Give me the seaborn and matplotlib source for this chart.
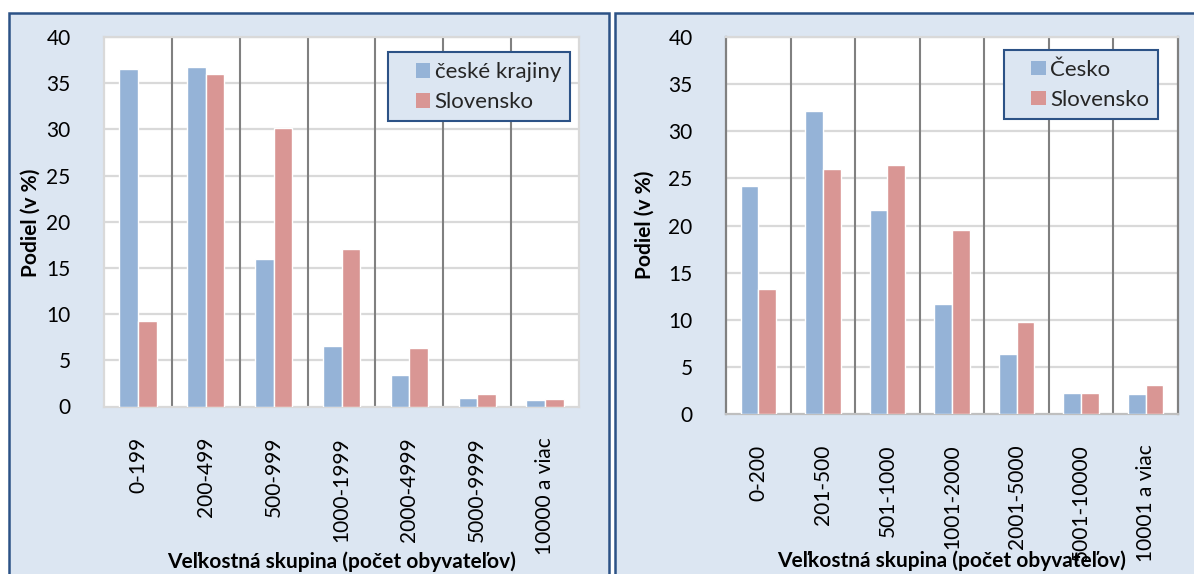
import matplotlib
matplotlib.use("Agg")
import matplotlib.pyplot as plt
from matplotlib.patches import Rectangle
from matplotlib.legend_handler import HandlerPatch
import seaborn as sns
import pandas as pd

# ---- data ----
cats_left = ["0-199", "200-499", "500-999", "1000-1999", "2000-4999", "5000-9999", "10000 a viac"]
cz_left = [36.5, 36.8, 16.0, 6.5, 3.4, 0.9, 0.7]
sk_left = [9.3, 36.0, 30.1, 17.0, 6.35, 1.35, 0.85]
series_left = ["české krajiny", "Slovensko"]

cats_right = ["0-200", "201-500", "501-1000", "1001-2000", "2001-5000", "5001-10000", "10001 a viac"]
cz_right = [24.2, 32.1, 21.6, 11.7, 6.4, 2.25, 2.15]
sk_right = [13.3, 26.0, 26.4, 19.5, 9.75, 2.25, 3.05]
series_right = ["Česko", "Slovensko"]

yticks = [0, 5, 10, 15, 20, 25, 30, 35, 40]
ylabel = "Podiel (v %)"
xlabel = "Veľkostná skupina (počet obyvateľov)"

# ---- style ----
sns.set_theme(style="white")
plt.rcParams['font.family'] = ['Lato', 'DejaVu Sans']

BLUE = "#95B3D7"
RED = "#D99694"
PANEL = "#DCE6F2"
BORDER = "#2C5286"
LIGHT = "#D9D9D9"
DARK = "#808080"

W, H = 1194, 574
fig = plt.figure(figsize=(W / 100, H / 100), dpi=100)
fig.patch.set_facecolor("white")

def px_rect(x0, y0, x1, y1):
    return [x0 / W, 1 - y1 / H, (x1 - x0) / W, (y1 - y0) / H]

# panel backgrounds
for (x0, x1) in [(9, 609), (615, 1200)]:
    fig.patches.append(Rectangle((x0 / W, -0.05), (x1 - x0) / W, 1.05 - 13 / H,
                                 transform=fig.transFigure, facecolor=PANEL,
                                 edgecolor=BORDER, linewidth=1.8, zorder=-10))


def square_patch(legend, orig_handle, xdescent, ydescent, width, height, fontsize):
    s = 0.66 * fontsize
    return Rectangle((-xdescent + width - s, -ydescent + (height - s) / 2), s, s)


def make_long(cats, a, b, names):
    return pd.DataFrame({
        "cat": cats + cats,
        "val": a + b,
        "series": [names[0]] * len(cats) + [names[1]] * len(cats),
    })


def draw(ax, cats, a, b, names, edge_dark, leg_anchor, xlab_pos, ylab_pos, bottom_col):
    df = make_long(cats, a, b, names)
    sns.barplot(data=df, x="cat", y="val", hue="series", palette=[BLUE, RED],
                saturation=1, width=0.55, edgecolor="white", linewidth=1.0,
                ax=ax, zorder=3, legend=False)
    ax.set_facecolor("white")
    ax.set_xlim(-0.5, len(cats) - 0.5)
    ax.set_ylim(0, 40)
    ax.set_yticks(yticks)
    ax.set_yticklabels([str(t) for t in yticks])
    for t in yticks[1:]:
        ax.axhline(t, color=LIGHT, lw=1.6, zorder=1)
    for i in range(len(cats) - 1):
        ax.axvline(i + 0.5, color=DARK, lw=1.5, zorder=2)
    for s in ax.spines.values():
        s.set_color(LIGHT)
        s.set_linewidth(1.6)
    if edge_dark:
        ax.spines["left"].set_color(DARK)
        ax.spines["right"].set_color(DARK)
    ax.spines["bottom"].set_color(bottom_col)
    ax.tick_params(axis="y", length=0, pad=24, labelsize=15, labelcolor="black")
    ax.tick_params(axis="x", length=0, pad=22, labelsize=15, labelcolor="black")
    plt.setp(ax.get_xticklabels(), rotation=90)
    ax.set_xlabel(xlabel, fontsize=15, fontweight="bold", color="black")
    ax.xaxis.set_label_coords(*xlab_pos)
    ax.xaxis.label.set_va("center")
    ax.set_ylabel(ylabel, fontsize=15, fontweight="bold", color="black")
    ax.yaxis.set_label_coords(*ylab_pos)
    ax.yaxis.label.set_va("center")
    handles = [Rectangle((0, 0), 1, 1, facecolor=c, edgecolor="none") for c in (BLUE, RED)]
    leg = ax.legend(handles, names, loc="upper right", bbox_to_anchor=leg_anchor,
                    fontsize=16, frameon=True, fancybox=False, framealpha=1,
                    facecolor=PANEL, edgecolor=BORDER, handlelength=1.5,
                    handleheight=0.9, handletextpad=0.2, labelspacing=0.42,
                    borderpad=0.4, borderaxespad=0,
                    handler_map={Rectangle: HandlerPatch(patch_func=square_patch)})
    leg.get_frame().set_linewidth(1.5)
    leg.set_zorder(10)


axL = fig.add_axes(px_rect(104, 37, 579, 406.5))
draw(axL, cats_left, cz_left, sk_left, series_left, False,
     (0.981, 0.959), (0.501, -0.42), (-0.154, 0.497), LIGHT)

axR = fig.add_axes(px_rect(726, 37, 1178, 414))
draw(axR, cats_right, cz_right, sk_right, series_right, True,
     (0.956, 0.966), (0.50, -0.39), (-0.179, 0.501), "#BFBFBF")

fig.savefig("out.png", dpi=100)
